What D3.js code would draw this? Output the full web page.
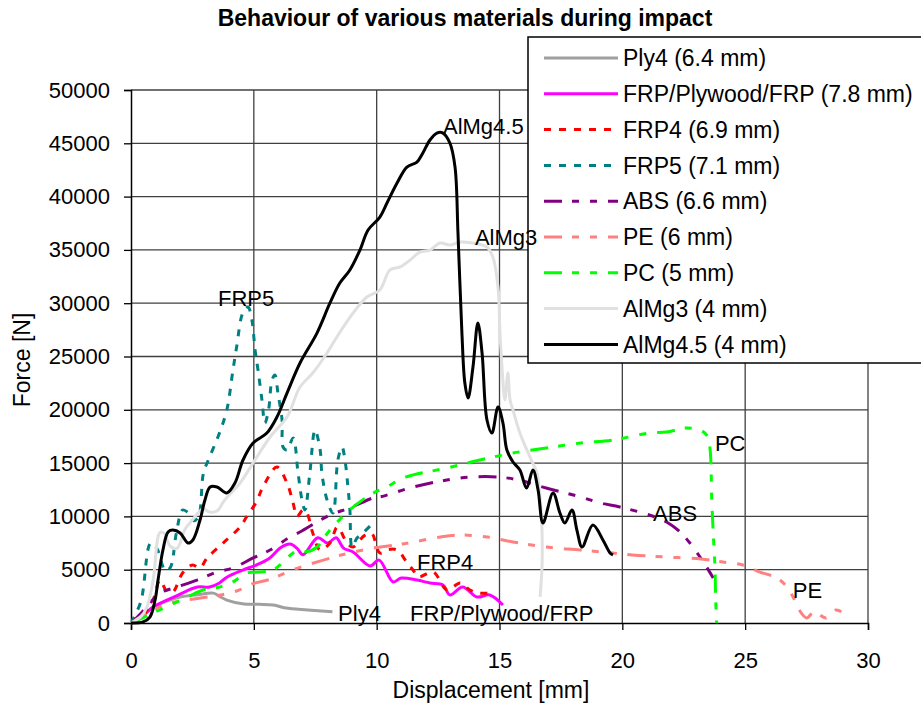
<!DOCTYPE html>
<html>
<head>
<meta charset="utf-8">
<script src="https://cdn.jsdelivr.net/npm/d3@7"></script>
<style>
  body { margin: 0; background: #fff; }
  svg { font-family: "Liberation Sans", Arial, sans-serif; }
</style>
</head>
<body>
<div id="chart"></div>
<script>
// displacement [mm], force [N]
const ply4 = [[0,0],[0.4,500],[0.9,1500],[1.4,2000],[2.0,2440],[2.7,2650],[3.35,2800],[3.6,2500],[3.9,2150],[4.6,1780],[5.2,1750],[5.8,1690],[6.3,1400],[7.2,1220],[8.2,1050]];
const frpPly = [[0,0],[0.4,500],[0.9,1500],[1.9,2600],[2.7,3370],[3.2,3370],[3.6,3750],[3.9,4300],[4.55,4970],[5.1,5440],[5.65,6100],[6.07,7030],[6.47,7400],[6.76,7000],[7.0,6400],[7.6,8000],[8.0,7500],[8.35,8000],[8.65,7030],[9.04,6660],[9.73,5350],[10.1,5900],[10.67,3850],[11.0,4220],[11.64,4030],[12.17,3750],[12.7,3560],[12.98,2630],[13.5,3380],[14.08,2440],[14.6,2630],[15.14,1690]];
const frp4 = [[0,0],[0.5,800],[0.9,2160],[1.18,4030],[1.45,3000],[1.7,2900],[2.1,4690],[2.5,5440],[2.8,5160],[3.1,6100],[3.75,7500],[4.44,9000],[4.7,9940],[5.1,11350],[5.37,12760],[5.94,14630],[6.35,13130],[6.6,11250],[6.76,10000],[7.0,10600],[7.16,10320],[7.4,8440],[7.7,6850],[8.1,7500],[8.4,9000],[8.8,7500],[9.04,7130],[9.5,8200],[9.8,8400],[10.13,6570],[10.5,6900],[10.83,6850],[11.2,5800],[11.5,4900],[11.7,4320],[12.3,4780],[12.86,3100],[13.4,3750],[13.8,3100],[14.1,2810],[14.6,2810]];
const frp5 = [[0,0],[0.4,2000],[0.8,7500],[1.05,7000],[1.4,4900],[1.6,5200],[1.85,8500],[2.1,10600],[2.3,10400],[2.55,9600],[2.75,10000],[2.95,14070],[3.2,15570],[3.6,17820],[3.9,19980],[4.15,23730],[4.3,25890],[4.55,29080],[4.76,29640],[4.92,28420],[5.05,25610],[5.17,23730],[5.33,20920],[5.45,18760],[5.6,20000],[5.74,22790],[5.86,23260],[5.98,21570],[6.15,19040],[6.19,16510],[6.35,16230],[6.6,17350],[6.8,14070],[6.96,11540],[7.08,10600],[7.28,14070],[7.49,18100],[7.7,16230],[7.77,14070],[7.98,11540],[8.22,10320],[8.42,15290],[8.59,16510],[8.71,15290],[8.83,12760],[8.91,10600],[9.0,7130],[9.2,7970],[9.44,8440],[9.85,9380]];
const abs = [[0,0],[0.4,900],[0.77,1880],[1.18,2810],[1.87,3380],[2.69,4030],[3.5,4780],[4.15,5160],[4.97,6100],[5.66,6850],[6.47,8070],[6.88,8540],[8.1,10130],[8.9,10790],[9.85,11730],[10.13,11820],[11.5,12760],[12.86,13410],[13.9,13700],[14.9,13700],[15.8,13410],[16.9,12660],[18.3,11820],[19.1,11260],[19.9,10880],[21.1,10130],[21.8,9470],[22.35,8540],[22.75,7500],[23.16,6190],[23.43,5250],[23.7,4220]];
const pe = [[0,0],[0.4,600],[0.9,1220],[1.6,1880],[2.3,2160],[3.1,2440],[3.6,2600],[4.3,3000],[4.97,3700],[5.66,4100],[6.6,5000],[8.2,6150],[8.9,6570],[9.85,7030],[10.8,7320],[11.5,7600],[12.6,8070],[13.4,8250],[14.5,8070],[15.55,7600],[16.9,7130],[18.3,6850],[19.6,6570],[20.4,6380],[21.8,6190],[23.2,6000],[24.1,5720],[24.9,5440],[25.6,4780],[26.3,4220],[26.7,3380],[26.95,2440],[27.2,1220],[27.5,470],[27.8,1030],[28.3,470],[28.7,1220],[29.0,940]];
const pc = [[0,0],[0.4,400],[0.9,940],[1.6,1690],[2.3,2440],[2.93,3100],[3.6,3380],[4.15,3850],[4.7,4690],[5.25,4780],[5.78,4970],[6.19,5720],[6.6,6570],[6.88,6850],[7.16,6700],[7.57,7130],[8.1,8720],[8.9,10600],[9.73,12010],[10.4,12760],[11.2,13700],[12.86,14540],[14.2,15290],[15.55,15950],[16.9,16420],[18.3,16880],[19.6,17160],[21.1,17820],[21.8,17920],[22.6,18290],[23.16,18100],[23.43,17630],[23.56,16510],[23.64,11540],[23.7,8440],[23.77,5250],[23.8,2160],[23.84,0]];
const almg3 = [[0,0],[0.4,600],[0.65,1500],[0.9,4000],[1.18,8500],[1.35,8400],[1.6,7200],[1.87,7000],[2.2,8800],[2.5,9660],[2.93,10700],[3.2,10400],[3.5,10500],[3.8,11500],[4.44,13130],[4.97,15010],[5.66,17450],[6.35,19320],[6.88,22140],[7.4,23450],[7.98,25330],[8.38,26830],[9.04,29080],[9.6,30580],[10.13,31240],[10.54,33120],[10.95,33400],[11.36,34050],[11.76,34800],[12.17,34990],[12.58,35640],[12.98,35460],[13.4,35740],[13.9,35640],[14.49,35270],[14.73,34330],[14.94,31520],[15.02,27200],[15.1,24010],[15.22,20920],[15.34,23450],[15.43,20920],[15.55,19980],[15.83,17820],[16.24,15570],[16.52,14070],[16.65,11820],[16.73,8720],[16.73,5250],[16.65,2440]];
const almg45 = [[0,0],[0.49,100],[0.77,560],[0.98,2160],[1.1,4030],[1.3,6850],[1.51,8540],[1.71,8720],[2.0,8440],[2.32,7500],[2.52,7790],[2.81,9660],[3.01,11540],[3.22,12760],[3.5,12760],[3.9,12200],[4.23,13130],[4.56,15290],[4.97,16880],[5.53,17820],[5.94,19320],[6.35,21570],[6.88,24390],[7.57,27200],[8.1,30020],[8.5,31890],[8.91,33120],[9.32,34990],[9.65,36860],[10.13,38080],[10.42,39400],[10.83,41270],[11.23,42770],[11.64,43240],[11.88,44090],[12.17,45310],[12.45,45960],[12.7,45960],[12.98,45030],[13.19,42770],[13.31,36580],[13.47,27200],[13.59,22510],[13.72,21100],[13.92,24010],[14.12,28140],[14.29,25330],[14.49,19040],[14.69,17820],[14.94,20260],[15.14,18760],[15.3,16230],[15.55,15100],[15.83,14350],[16.1,12660],[16.36,14350],[16.57,12480],[16.77,9380],[17.18,12190],[17.46,10320],[17.66,9380],[17.95,10600],[18.15,8720],[18.36,7130],[18.8,9190],[19.21,7790],[19.5,6570],[19.62,6380]];

const seriesNames = ["Ply4 (6.4 mm)", "FRP/Plywood/FRP (7.8 mm)", "FRP4 (6.9 mm)", "FRP5 (7.1 mm)", "ABS (6.6 mm)", "PE (6 mm)", "PC (5 mm)", "AlMg3 (4 mm)", "AlMg4.5 (4 mm)"];
const seriesData = [ply4, frpPly, frp4, frp5, abs, pe, pc, almg3, almg45];
const xTicks = [0, 5, 10, 15, 20, 25, 30];
const yTicks = [0, 5000, 10000, 15000, 20000, 25000, 30000, 35000, 40000, 45000, 50000];

// data labels next to the curves: text, displacement, force
const labelTexts = ["AlMg4.5", "AlMg3", "FRP5", "PC", "ABS", "PE", "FRP4", "Ply4", "FRP/Plywood/FRP"];
const labelX = [12.7, 14.0, 3.54, 23.77, 21.25, 26.94, 11.64, 8.43, 11.36];
const labelY = [46600, 36200, 30500, 16900, 10300, 3100, 5720, 940, 940];

const colors = ["#a0a0a0", "#ff00ff", "#ff0000", "#008080", "#800080", "#ff8080", "#00ff00", "#e0e0e0", "#000000"];
const dotted = "7,8";
const dashDot = "18,10,7,11,7,11";
const dashes = [null, null, dotted, dotted, dashDot, dashDot, dashDot, null, null];

const width = 921, height = 704;

let x = d3.scaleLinear().domain([0, 30]).range([131, 868]);
let y = d3.scaleLinear().domain([0, 50000]).range([623, 90]);

let svg = d3.select("#chart").append("svg")
  .attr("width", width)
  .attr("height", height);

// grid
svg.append("g")
  .selectAll("line")
  .data(yTicks.slice(1))
  .enter().append("line")
  .attr("x1", x(0)).attr("x2", x(30))
  .attr("y1", d => y(d)).attr("y2", d => y(d))
  .attr("stroke", "#404040").attr("stroke-width", 1.3);

svg.append("g")
  .selectAll("line")
  .data(xTicks.slice(1))
  .enter().append("line")
  .attr("x1", d => x(d)).attr("x2", d => x(d))
  .attr("y1", y(0)).attr("y2", y(50000))
  .attr("stroke", "#404040").attr("stroke-width", 1.3);

// axes
let xAxis = d3.axisBottom(x).tickValues(xTicks).tickSize(7).tickPadding(22).tickFormat(d3.format("d"));
let yAxis = d3.axisLeft(y).tickValues(yTicks).tickSize(7).tickPadding(14).tickFormat(d3.format("d"));

let gx = svg.append("g")
  .attr("transform", "translate(0," + y(0) + ")")
  .call(xAxis);
let gy = svg.append("g")
  .attr("transform", "translate(" + x(0) + ",0)")
  .call(yAxis);

[gx, gy].forEach(g => {
  g.select(".domain").attr("stroke", "#000").attr("stroke-width", 1.5);
  g.selectAll(".tick line").attr("stroke", "#000").attr("stroke-width", 1.3);
  g.selectAll(".tick text").attr("fill", "#000").style("font-size", "22px")
    .style("font-family", "'Liberation Sans', Arial, sans-serif");
});
gx.selectAll(".tick text").attr("dy", "0.71em");

// curves
let line = d3.line()
  .curve(d3.curveCatmullRom.alpha(0.5))
  .x(d => x(d[0]))
  .y(d => y(d[1]));

svg.append("g")
  .selectAll("path")
  .data(seriesData)
  .enter().append("path")
  .attr("d", d => line(d))
  .attr("fill", "none")
  .attr("stroke", (d, i) => colors[i])
  .attr("stroke-width", 3)
  .attr("stroke-dasharray", (d, i) => dashes[i])
  .attr("stroke-linejoin", "round");

// titles
svg.append("text")
  .attr("x", 465).attr("y", 26)
  .attr("text-anchor", "middle")
  .style("font-size", "23px").style("font-weight", "bold")
  .text("Behaviour of various materials during impact");

svg.append("text")
  .attr("x", 491).attr("y", 698)
  .attr("text-anchor", "middle")
  .style("font-size", "23px")
  .text("Displacement [mm]");

svg.append("text")
  .attr("transform", "translate(30,360) rotate(-90)")
  .attr("text-anchor", "middle")
  .style("font-size", "23px")
  .text("Force [N]");

// legend
let legend = svg.append("g");
legend.append("rect")
  .attr("x", 528).attr("y", 37)
  .attr("width", 410).attr("height", 326)
  .attr("fill", "#fff")
  .attr("stroke", "#000").attr("stroke-width", 1.5);

let item = legend.selectAll(".item")
  .data(seriesNames)
  .enter().append("g")
  .attr("class", "item")
  .attr("transform", (d, i) => "translate(0," + (58 + i * 35.8) + ")");

item.append("line")
  .attr("x1", 544).attr("x2", 618)
  .attr("stroke", (d, i) => colors[i])
  .attr("stroke-width", 3)
  .attr("stroke-dasharray", (d, i) => dashes[i]);

item.append("text")
  .attr("x", 623)
  .attr("dy", "0.36em")
  .style("font-size", "23px")
  .text(d => d);

// data labels sit on top of the legend box
svg.append("g")
  .selectAll("text")
  .data(labelTexts)
  .enter().append("text")
  .attr("x", (d, i) => x(labelX[i]))
  .attr("y", (d, i) => y(labelY[i]))
  .attr("dy", "0.36em")
  .style("font-size", "22px")
  .text(d => d);
</script>
</body>
</html>
